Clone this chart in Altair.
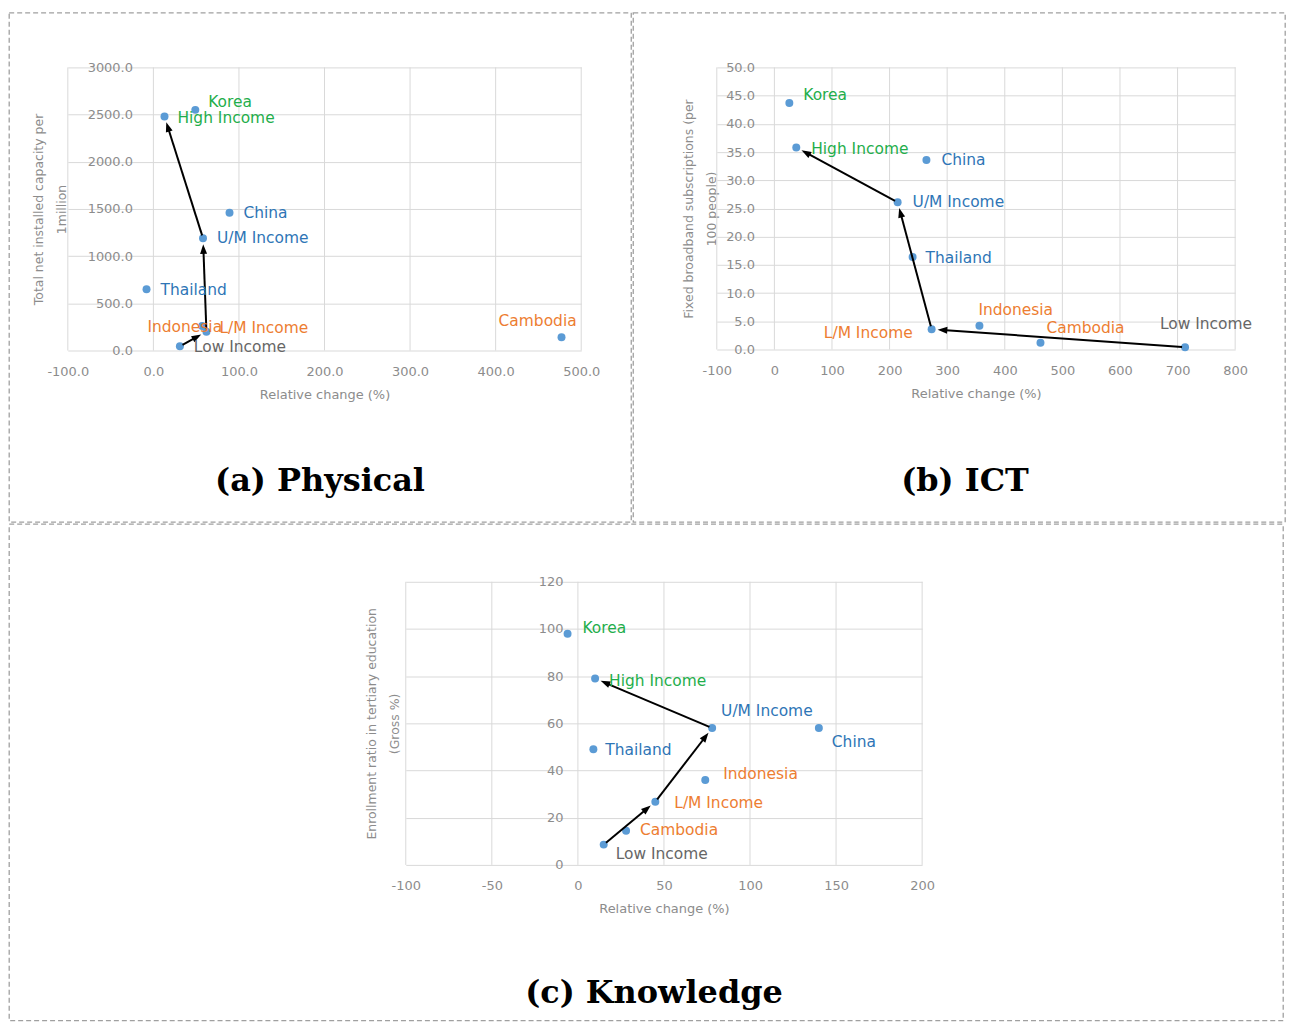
import math
import altair as alt
import pandas as pd

# ---------------- data ----------------
names_a = ["Korea", "High Income", "China", "U/M Income", "Thailand",
           "Indonesia", "L/M Income", "Low Income", "Cambodia"]
change_a = [49, 13, 89, 58, -8, 57, 62, 31, 477]
capacity_a = [2550, 2480, 1460, 1190, 650, 260, 200, 45, 140]

names_b = ["Korea", "High Income", "China", "U/M Income", "Thailand",
           "L/M Income", "Indonesia", "Cambodia", "Low Income"]
change_b = [26, 38, 264, 214, 240, 273, 356, 462, 713]
broadband_b = [43.7, 35.8, 33.6, 26.1, 16.4, 3.6, 4.2, 1.2, 0.4]

names_c = ["Korea", "High Income", "Thailand", "Cambodia", "Low Income",
           "L/M Income", "Indonesia", "U/M Income", "China"]
change_c = [-6, 10, 9, 28, 15, 45, 74, 78, 140]
enrol_c = [98, 79, 49, 14.5, 8.6, 26.8, 36, 58, 58]

income_path = ["Low Income", "L/M Income", "U/M Income", "High Income"]

groups = {"Korea": "high", "High Income": "high",
          "China": "upper", "U/M Income": "upper", "Thailand": "upper",
          "Indonesia": "lower", "L/M Income": "lower", "Cambodia": "lower",
          "Low Income": "low"}

xticks_a = [-100, 0, 100, 200, 300, 400, 500]
yticks_a = [0, 500, 1000, 1500, 2000, 2500, 3000]
xticks_b = [-100, 0, 100, 200, 300, 400, 500, 600, 700, 800]
yticks_b = [0, 5, 10, 15, 20, 25, 30, 35, 40, 45, 50]
xticks_c = [-100, -50, 0, 50, 100, 150, 200]
yticks_c = [0, 20, 40, 60, 80, 100, 120]

xtitle = "Relative change (%)"
ytitle_a = ["Total net installed capacity per", "1million"]
ytitle_b = ["Fixed broadband subscriptions (per", "100 people)"]
ytitle_c = ["Enrollment ratio in tertiary education", "(Gross %)"]
panel_titles = ["(a) Physical", "(b) ICT", "(c) Knowledge"]

# ---------------- styles ----------------
group_colors = {"high": "#1fae4b", "upper": "#2e75b6", "lower": "#ed7d31", "low": "#666666"}
DOT = "#5b9bd5"
GRID = "#d9d9d9"
AXIS_TXT = "#8c8c8c"
FONT = "DejaVu Sans"
LABEL_SIZE = 15.5
ARROW_HEAD = "M0,0L-0.36,1L0.36,1Z"
FRAME = alt.ViewBackground(stroke="#a0a0a0", strokeDash=[5, 3], strokeWidth=1.3)
MINUS = "\u2212"

# label placement: name -> (dx, dy, align)
offs_a = {"Korea": (13, -8, "left"), "High Income": (13, 2, "left"),
          "China": (14, 0, "left"), "U/M Income": (14, 0, "left"),
          "Thailand": (14, 1, "left"), "Indonesia": (20, 1, "right"),
          "L/M Income": (13, -4, "left"), "Low Income": (14, 1, "left"),
          "Cambodia": (-24, -16, "center")}
offs_b = {"Korea": (14, -8, "left"), "High Income": (15, 1, "left"),
          "China": (15, 0, "left"), "U/M Income": (15, 0, "left"),
          "Thailand": (13, 1, "left"), "L/M Income": (-19, 4, "right"),
          "Indonesia": (-1, -16, "left"), "Cambodia": (6, -15, "left"),
          "Low Income": (21, -23, "center")}
offs_c = {"Korea": (15, -6, "left"), "High Income": (14, 2, "left"),
          "Thailand": (12, 1, "left"), "Cambodia": (14, -1, "left"),
          "Low Income": (12, 9, "left"), "L/M Income": (19, 1, "left"),
          "Indonesia": (18, -6, "left"), "U/M Income": (9, -17, "left"),
          "China": (13, 14, "left")}


def label_expr(fmt):
    return f"replace(format(datum.value, '{fmt}'), '{MINUS}', '-')"


def panel(names, xs, ys, xticks, yticks, xfmt, yfmt, ytitle, offs, title,
          width, height, xrange, yrange, ylab_pad, ytitle_x, title_off, title_dx):
    df = pd.DataFrame({"name": names, "x": xs, "y": ys})
    kx = (xrange[1] - xrange[0]) / (xticks[-1] - xticks[0])
    ky = (yrange[0] - yrange[1]) / (yticks[-1] - yticks[0])
    x0_px = xrange[0] + (0 - xticks[0]) * kx  # pixel position of x = 0

    xs_ = alt.Scale(domain=[xticks[0], xticks[-1]], range=list(xrange), nice=False, zero=False)
    ys_ = alt.Scale(domain=[yticks[0], yticks[-1]], range=list(yrange), nice=False, zero=False)

    xaxis = alt.Axis(values=xticks, labelExpr=label_expr(xfmt), grid=False,
                     domain=False, ticks=False, labelPadding=15, labelFlush=False,
                     labelOverlap=False, labelColor=AXIS_TXT, labelFont=FONT, labelFontSize=13,
                     title=xtitle, titleColor=AXIS_TXT, titleFont=FONT, titleFontSize=13,
                     titleFontWeight="normal", titlePadding=10,
                     offset=-(height - yrange[0]))
    yaxis = alt.Axis(values=yticks, labelExpr=label_expr(yfmt), grid=True, gridColor=GRID,
                     gridWidth=1, domain=False, ticks=False, labelPadding=ylab_pad,
                     labelOverlap=False, labelColor=AXIS_TXT, labelFont=FONT, labelFontSize=13,
                     title=ytitle, titleColor=AXIS_TXT, titleFont=FONT, titleFontSize=12.5,
                     titleFontWeight="normal", titleAngle=270, titleBaseline="middle",
                     titleAlign="center", titleX=ytitle_x - x0_px,
                     titleY=(yrange[0] + yrange[1]) / 2, titleLineHeight=23,
                     offset=-x0_px)

    # vertical grid lines at the x tick values
    vgrid = alt.Chart(pd.DataFrame({"x": xticks})).mark_rule(color=GRID, strokeWidth=1).encode(
        x=alt.X("x:Q", scale=xs_, axis=xaxis),
        y=alt.datum(yticks[0], scale=ys_, axis=yaxis),
        y2=alt.datum(yticks[-1]),
    )

    points = alt.Chart(df).mark_circle(size=64, color=DOT, opacity=1).encode(
        x="x:Q", y="y:Q")

    # arrows along the income path
    pos = dict(zip(names, zip(xs, ys)))
    seg_rows, head_rows = [], []
    for a, b in zip(income_path[:-1], income_path[1:]):
        (xa, ya), (xb, yb) = pos[a], pos[b]
        dxp = (xb - xa) * kx
        dyp = -(yb - ya) * ky
        L = math.hypot(dxp, dyp)
        ux, uy = dxp / L, dyp / L
        tip_x = xb - 6 * ux / kx
        tip_y = yb + 6 * uy / ky
        st_x = xa + 3 * ux / kx
        st_y = ya - 3 * uy / ky
        en_x = xb - 11 * ux / kx
        en_y = yb + 11 * uy / ky
        seg_rows.append({"x": st_x, "y": st_y, "x2": en_x, "y2": en_y})
        ang = math.degrees(math.atan2(dxp, -dyp)) % 360
        head_rows.append({"x": tip_x, "y": tip_y, "angle": ang})

    segs = alt.Chart(pd.DataFrame(seg_rows)).mark_rule(color="black", strokeWidth=2).encode(
        x="x:Q", y="y:Q", x2="x2:Q", y2="y2:Q")
    heads = alt.Chart(pd.DataFrame(head_rows)).mark_point(
        shape=ARROW_HEAD, filled=True, size=380, color="black", opacity=1, strokeWidth=0
    ).encode(x="x:Q", y="y:Q", angle=alt.Angle("angle:Q", scale=None))

    layers = [vgrid, points, segs, heads]
    for n in names:
        dx, dy, al = offs[n]
        layers.append(
            alt.Chart(df).transform_filter(alt.datum.name == n).mark_text(
                align=al, baseline="middle", dx=dx, dy=dy, font=FONT, fontSize=LABEL_SIZE,
                color=group_colors[groups[n]]
            ).encode(x="x:Q", y="y:Q", text="name:N")
        )

    return alt.layer(*layers).properties(
        width=width, height=height, view=FRAME,
        title=alt.TitleParams(title, orient="bottom", offset=title_off, baseline="middle",
                              font="DejaVu Serif", fontSize=32, fontWeight="bold",
                              color="black", anchor="middle", dx=title_dx),
    )


pa = panel(names_a, change_a, capacity_a, xticks_a, yticks_a, ".1f", ".1f", ytitle_a, offs_a,
           panel_titles[0], 624, 511, (59, 574), (339, 55), 21, 30, -41, 0)
pb = panel(names_b, change_b, broadband_b, xticks_b, yticks_b, "d", ".1f", ytitle_b, offs_b,
           panel_titles[1], 654, 511, (84, 604), (338, 55), 20, 56, -41, 6)
pc = panel(names_c, change_c, enrol_c, xticks_c, yticks_c, "d", "d", ytitle_c, offs_c,
           panel_titles[2], 1278, 498, (398, 916), (342, 58), 15, 364, -27, 8)

chart = alt.vconcat(
    alt.hconcat(pa, pb, spacing=0),
    pc,
    spacing=0,
).properties(
    padding={"left": 0, "top": 2, "right": 0, "bottom": 0}
).configure_view(
    stroke="#a0a0a0", strokeDash=[5, 3], strokeWidth=1.3
).configure(background="white")

chart.save("out.html", embed_options={"renderer": "svg", "actions": False})
